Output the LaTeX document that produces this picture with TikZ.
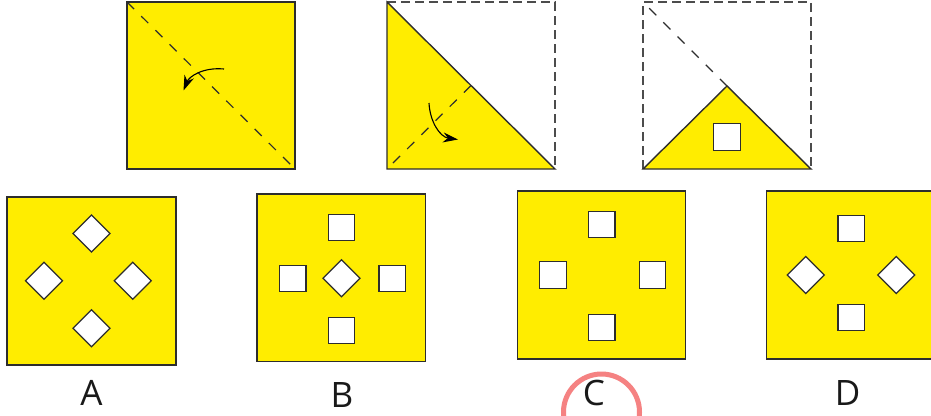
\documentclass[tikz,border=0pt]{standalone}
\usepackage{fontspec}
\setmainfont{Open Sans}
\usetikzlibrary{arrows.meta}
\definecolor{paper}{RGB}{255,237,0}
\definecolor{edge}{RGB}{45,45,45}
\definecolor{ring}{RGB}{245,130,130}
\tikzset{
  sheet/.style={fill=paper,draw=edge,line width=1.4pt},
  hole/.style={fill=white,draw=edge,line width=1.2pt},
  foldline/.style={draw=edge,line width=1.2pt,dash pattern=on 10pt off 10pt},
  ghost/.style={draw=edge!85,line width=1.3pt,dash pattern=on 9pt off 5pt},
  turn/.style={draw=black,line width=1.1pt,-{Stealth[length=15pt,width=10pt]}},
  lab/.style={font=\fontsize{35}{35}\selectfont,text=black!90,inner sep=0pt}
}
\newcommand{\sqhole}[2]{\path[hole] (#1-13.2,#2-13.2) rectangle (#1+13.2,#2+13.2);}
\newcommand{\dmhole}[2]{\path[hole] (#1,#2-18.5) -- (#1+18.5,#2) -- (#1,#2+18.5) -- (#1-18.5,#2) -- cycle;}
\begin{document}
\begin{tikzpicture}[x=1pt,y=-1pt]
\useasboundingbox (0,0) rectangle (931,415);
\clip (0,0) rectangle (931,415);
\fill[white] (0,0) rectangle (931,415);
% step 1
\path[sheet] (127,2) rectangle (295,169);
\path[foldline] (127,2) -- (295,169);
\draw[turn] (224,69) .. controls (202,67) and (189,77) .. (183.5,90.5);
% step 2
\path[ghost] (387,2) -- (555,2) -- (555,169);
\path[sheet] (387,2) -- (387,169) -- (555,169) -- cycle;
\path[foldline] (471,85.5) -- (387,169);
\draw[turn] (429,103) .. controls (430,122) and (440,137) .. (458,139.5);
% step 3
\path[ghost] (643,169) -- (643,2) -- (811,2) -- (811,169);
\path[sheet] (643,169) -- (727,86) -- (811,169) -- cycle;
\path[foldline] (727,86) -- (643,2);
\sqhole{727}{137}
% option A
\path[sheet] (7,197) rectangle (176,365);
\dmhole{91.5}{233.5}
\dmhole{44}{280.7}
\dmhole{132.7}{280.7}
\dmhole{91.5}{328.3}
\node[lab] (la) at (91.5,393) {A};
% option B
\path[sheet] (257,194) rectangle (425.5,361.5);
\sqhole{341.3}{227.5}
\sqhole{292.7}{278.3}
\sqhole{392.2}{278.3}
\sqhole{341.3}{330.5}
\dmhole{341.5}{278.3}
\node[lab] (lb) at (342,395) {B};
% option C
\path[sheet] (517.3,191) rectangle (685.7,359);
\sqhole{601.7}{224.3}
\sqhole{553}{275}
\sqhole{652.3}{275}
\sqhole{601.7}{327.3}
\node[lab] (lc) at (594,393) {C};
\draw[ring,line width=5pt] (601.5,412) circle[radius=38];
% option D
\path[sheet] (766.7,191) rectangle (935,359);
\sqhole{851.2}{228.3}
\sqhole{851.2}{317.3}
\dmhole{805.7}{275}
\dmhole{896.3}{275}
\node[lab] (ld) at (847.5,393) {D};
\end{tikzpicture}
\end{document}
